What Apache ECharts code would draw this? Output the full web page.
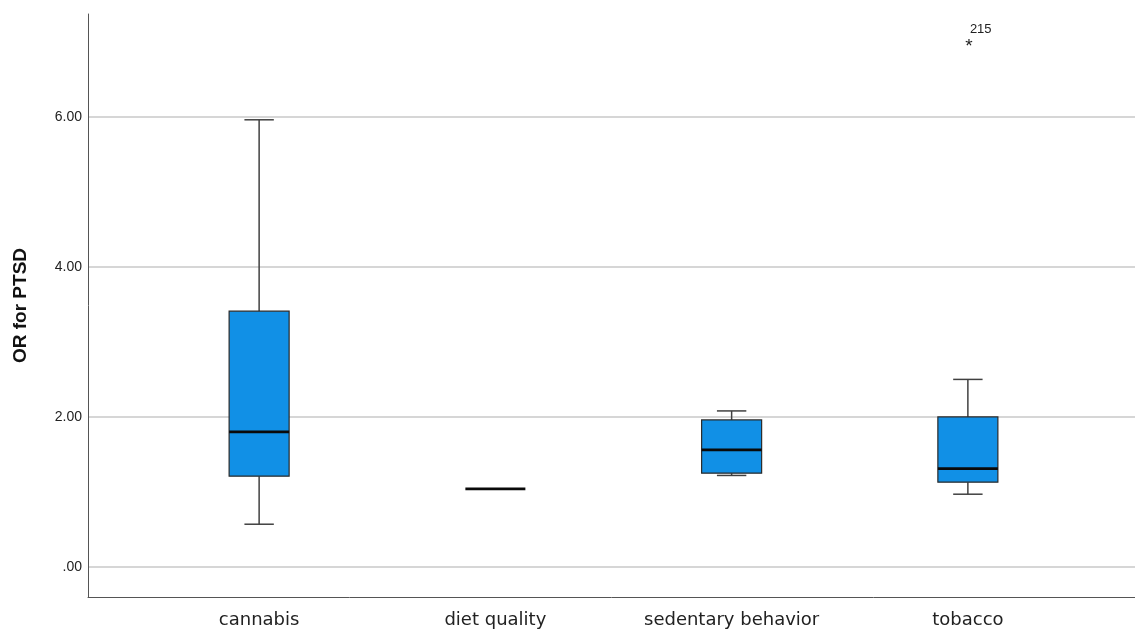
<!DOCTYPE html>
<html>
<head>
<meta charset="utf-8">
<script src="https://cdn.jsdelivr.net/npm/echarts@6/dist/echarts.min.js"></script>
<style>
html,body{margin:0;padding:0;background:#fff;}
#chart{width:1135px;height:630px;}
</style>
</head>
<body>
<div id="chart"></div>
<script>
// ---- data ----
const categories = ['cannabis', 'diet quality', 'sedentary behavior', 'tobacco'];
// [min, Q1, median, Q3, max]
const lowerWhisker = [0.57, 1.04, 1.22, 0.97];
const q1Values     = [1.21, 1.04, 1.25, 1.13];
const medianValues = [1.80, 1.04, 1.56, 1.31];
const q3Values     = [3.41, 1.04, 1.96, 2.00];
const upperWhisker = [5.96, 1.04, 2.08, 2.50];
const outlierCategory = [3];
const outlierValues = [6.97];
const outlierLabels = ['215'];
const yTicks = [0, 2, 4, 6];
const yTickLabels = ['.00', '2.00', '4.00', '6.00'];

const boxData = categories.map((c, i) => [i, lowerWhisker[i], q1Values[i], medianValues[i], q3Values[i], upperWhisker[i]]);
const outlierData = outlierValues.map((v, i) => [outlierCategory[i], v, outlierLabels[i]]);

const Y_MIN = -0.4, Y_MAX = 7.37;

const chart = echarts.init(document.getElementById('chart'), null, {renderer: 'canvas'});

function renderBox(params, api) {
  const x = api.value(0);
  const band = api.size([1, 0])[0];
  const half = band * 0.127;
  const cap = half * 0.49;
  const pMin = api.coord([x, api.value(1)]);
  const pQ1 = api.coord([x, api.value(2)]);
  const pMed = api.coord([x, api.value(3)]);
  const pQ3 = api.coord([x, api.value(4)]);
  const pMax = api.coord([x, api.value(5)]);
  const cx = pMed[0];
  const whiskerStyle = {stroke: '#404040', lineWidth: 1.5};
  const children = [];
  if (pMin[1] - pQ1[1] > 0.5) {
    children.push({type: 'line', shape: {x1: cx, y1: pQ1[1], x2: cx, y2: pMin[1]}, style: whiskerStyle});
    children.push({type: 'line', shape: {x1: cx - cap, y1: pMin[1], x2: cx + cap, y2: pMin[1]}, style: whiskerStyle});
  }
  if (pQ3[1] - pMax[1] > 0.5) {
    children.push({type: 'line', shape: {x1: cx, y1: pQ3[1], x2: cx, y2: pMax[1]}, style: whiskerStyle});
    children.push({type: 'line', shape: {x1: cx - cap, y1: pMax[1], x2: cx + cap, y2: pMax[1]}, style: whiskerStyle});
  }
  if (pQ1[1] - pQ3[1] > 0.5) {
    children.push({type: 'rect', shape: {x: cx - half, y: pQ3[1], width: half * 2, height: pQ1[1] - pQ3[1]},
      style: {fill: '#1190e6', stroke: '#2a2a2a', lineWidth: 1.2}});
  }
  children.push({type: 'line', shape: {x1: cx - half, y1: pMed[1], x2: cx + half, y2: pMed[1]},
    style: {stroke: '#0a0a0a', lineWidth: 2.8}});
  return {type: 'group', children: children};
}

function renderOutlier(params, api) {
  const p = api.coord([api.value(0), api.value(1)]);
  return {type: 'group', children: [
    {type: 'text', x: p[0] + 1, y: p[1] + 3, style: {text: '*', fontSize: 19, fontFamily: 'Liberation Sans, Arial', fill: '#222', align: 'center', verticalAlign: 'middle'}},
    {type: 'text', x: p[0] + 2, y: p[1] - 15, style: {text: String(api.value(2)), fontSize: 13, fontFamily: 'Liberation Sans, Arial', fill: '#222', align: 'left', verticalAlign: 'middle'}}
  ]};
}

const option = {
  backgroundColor: '#ffffff',
  animation: false,
  grid: [
    {left: 88, right: 0, top: 14, bottom: 33, containLabel: false, outerBoundsMode: 'none'},
    {left: 141, right: 49, top: 14, bottom: 33, containLabel: false, outerBoundsMode: 'none'}
  ],
  xAxis: [
    {gridIndex: 0, type: 'value', min: 0, max: 1, axisLine: {show: true, onZero: false, lineStyle: {color: '#555', width: 1}},
      axisTick: {show: false}, axisLabel: {show: false}, splitLine: {show: false}},
    {gridIndex: 1, type: 'category', data: categories, axisLine: {show: false}, axisTick: {show: false},
      axisLabel: {margin: 14, fontSize: 18, fontFamily: 'DejaVu Sans', color: '#222'}, splitLine: {show: false}}
  ],
  yAxis: [
    {gridIndex: 0, type: 'value', min: Y_MIN, max: Y_MAX,
      name: 'OR for PTSD', nameLocation: 'middle', nameGap: 58,
      nameTextStyle: {fontSize: 19, fontWeight: 'bold', fontFamily: 'Liberation Sans, Arial', color: '#111'},
      axisLine: {show: true, lineStyle: {color: '#555', width: 1}},
      axisTick: {show: false, customValues: yTicks},
      axisLabel: {customValues: yTicks, margin: 6, fontSize: 14, fontFamily: 'Liberation Sans, Arial', color: '#222',
        formatter: function (v) { const i = yTicks.indexOf(v); return i >= 0 ? yTickLabels[i] : ''; }},
      splitLine: {show: true, lineStyle: {color: '#c8c8c8', width: 1.5}}},
    {gridIndex: 1, type: 'value', min: Y_MIN, max: Y_MAX, axisLine: {show: false}, axisTick: {show: false},
      axisLabel: {show: false}, splitLine: {show: false}}
  ],
  series: [
    {type: 'custom', xAxisIndex: 1, yAxisIndex: 1, renderItem: renderBox, data: boxData, encode: {x: 0, y: [1, 2, 3, 4, 5]}},
    {type: 'custom', xAxisIndex: 1, yAxisIndex: 1, renderItem: renderOutlier, data: outlierData, encode: {x: 0, y: 1}}
  ]
};
chart.setOption(option);
</script>
</body>
</html>
